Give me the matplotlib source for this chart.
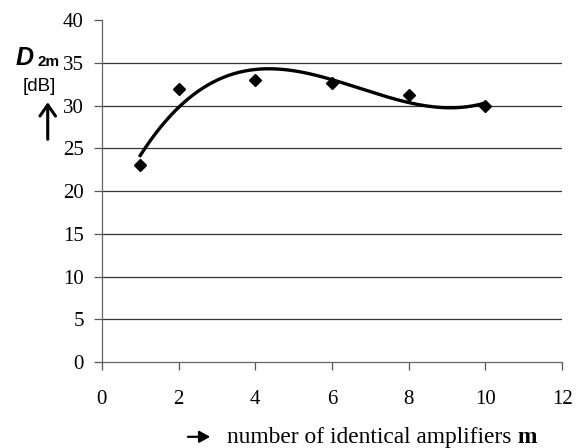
import numpy as np
import matplotlib
matplotlib.use("Agg")
import matplotlib.pyplot as plt
from matplotlib.patches import FancyArrowPatch

# number of identical amplifiers m and measured D2m [dB]
amplifiers = [1, 2, 4, 6, 8, 10]
d2m_db = [23.0, 32.0, 33.0, 32.6, 31.3, 30.0]

x_ticks = [0, 2, 4, 6, 8, 10, 12]
y_ticks = [0, 5, 10, 15, 20, 25, 30, 35, 40]

# 3rd order polynomial trend line (as in the spreadsheet chart)
coef = np.polyfit(amplifiers, d2m_db, 3)
xs = np.linspace(amplifiers[0], amplifiers[-1], 200)
ys = np.polyval(coef, xs)

fig = plt.figure(figsize=(5.82, 4.48), dpi=100)
ax = fig.add_axes([0.175, 0.192, 0.791, 0.763])

serif = "Liberation Serif"
sans = "Liberation Sans"

for yv in y_ticks[1:-1]:
    ax.axhline(yv, color="#333333", lw=0.9, zorder=1)

ax.plot(xs, ys, color="black", lw=2.4, zorder=3)
ax.plot(amplifiers, d2m_db, "D", color="black", ms=6.5, zorder=4)

ax.set_xlim(0, 12)
ax.set_ylim(0, 40)
ax.set_xticks(x_ticks)
ax.set_yticks(y_ticks)
ax.tick_params(axis="x", direction="out", length=6, width=0.9, color="#555555",
               pad=14, labelsize=15)
ax.tick_params(axis="y", direction="out", length=6, width=0.9, color="#555555",
               pad=7, labelsize=15)
for lab in ax.get_xticklabels() + ax.get_yticklabels():
    lab.set_fontfamily(serif)

ax.spines["top"].set_visible(False)
ax.spines["right"].set_visible(False)
ax.spines["left"].set_color("#666666")
ax.spines["bottom"].set_color("#666666")
ax.spines["left"].set_linewidth(0.9)
ax.spines["bottom"].set_linewidth(0.9)

# y label: D_2m [dB] with up arrow
fig.text(0.027, 0.855, "D", fontsize=18, fontweight="bold", fontstyle="italic",
         family=sans)
fig.text(0.064, 0.852, "2m", fontsize=11, fontweight="bold", family=sans)
fig.text(0.067, 0.806, "[dB]", fontsize=13.5, family=sans, ha="center", va="center")
fig.patches.append(FancyArrowPatch(
    (0.082, 0.683), (0.082, 0.778), transform=fig.transFigure,
    arrowstyle="->,head_length=5,head_width=3.5", lw=2.2, color="black",
    mutation_scale=1.6))

# x label with leading arrow
fig.patches.append(FancyArrowPatch(
    (0.318, 0.025), (0.366, 0.025), transform=fig.transFigure,
    arrowstyle="-|>,head_length=4,head_width=2.2", lw=1.6, color="black",
    mutation_scale=1.6))
fig.text(0.889, 0.012, "number of identical amplifiers ", fontsize=16.8,
         family=serif, ha="right")
fig.text(0.889, 0.012, "m", fontsize=16.8, family=serif, fontweight="bold", ha="left")

fig.savefig("out.png", dpi=100)
